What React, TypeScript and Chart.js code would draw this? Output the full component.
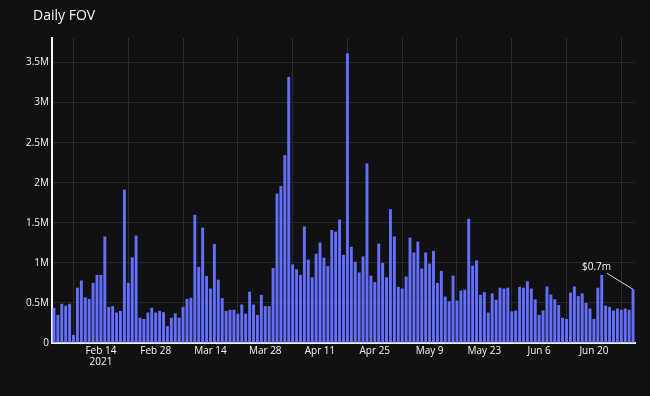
import React, { useEffect, useRef } from "react";
import { Chart, registerables } from "chart.js";

Chart.register(...registerables);

// ---- data ----
const START_DATE = "2021-02-02";
const FOV_M: number[] = [
  0.44, 0.35, 0.49, 0.465, 0.49, 0.1, 0.69, 0.78, 0.57, 0.55,
  0.75, 0.85, 0.85, 1.33, 0.45, 0.46, 0.38, 0.4, 1.915, 0.75,
  1.07, 1.34, 0.315, 0.3, 0.38, 0.44, 0.38, 0.4, 0.385, 0.21,
  0.315, 0.37, 0.315, 0.45, 0.55, 0.565, 1.6, 0.95, 1.44, 0.835,
  0.68, 1.235, 0.79, 0.56, 0.4, 0.415, 0.415, 0.365, 0.48, 0.365,
  0.64, 0.48, 0.35, 0.6, 0.46, 0.46, 0.935, 1.865, 1.96, 2.345,
  3.32, 0.98, 0.92, 0.85, 1.455, 1.04, 0.82, 1.115, 1.255, 1.065,
  0.96, 1.41, 1.39, 1.54, 1.1, 3.615, 1.2, 1.015, 0.88, 1.08,
  2.24, 0.84, 0.76, 1.24, 1.0, 0.82, 1.67, 1.33, 0.7, 0.68,
  0.83, 1.315, 1.13, 1.265, 0.93, 1.13, 0.99, 1.15, 0.75, 0.9,
  0.58, 0.52, 0.84, 0.53, 0.655, 0.665, 1.55, 0.965, 1.03, 0.6,
  0.635, 0.38, 0.62, 0.54, 0.69, 0.68, 0.69, 0.395, 0.405, 0.7,
  0.69, 0.77, 0.68, 0.545, 0.35, 0.405, 0.705, 0.605, 0.545, 0.475,
  0.315, 0.3, 0.63, 0.705, 0.585, 0.62, 0.5, 0.43, 0.3, 0.69,
  0.85, 0.465, 0.45, 0.405, 0.43, 0.415, 0.43, 0.415, 0.67,
];
const TICK_DATES = [
  "2021-02-14", "2021-02-28", "2021-03-14", "2021-03-28", "2021-04-11",
  "2021-04-25", "2021-05-09", "2021-05-23", "2021-06-06", "2021-06-20",
];
const TICK_LABELS: (string | string[])[] = [
  ["Feb 14", "2021"], "Feb 28", "Mar 14", "Mar 28", "Apr 11",
  "Apr 25", "May 9", "May 23", "Jun 6", "Jun 20",
];
const Y_TICKS = [0, 0.5, 1, 1.5, 2, 2.5, 3, 3.5];
const Y_MAX = 3.806;
const TITLE = "Daily FOV";
const ANNOTATION_TEXT = "$0.7m";

const BG = "#111111";
const BAR = "#636efa";
const GRID_H = "#222830";
const GRID_V = "#262d36";
const TEXT = "#f2f5fa";
const FONT = '"Open Sans", sans-serif';

function dayIndex(d: string): number {
  return Math.round((Date.parse(d) - Date.parse(START_DATE)) / 86400000);
}
const TICK_IDX = TICK_DATES.map(dayIndex);

const overlayPlugin = {
  id: "overlay",
  beforeDraw(chart: any) {
    const ctx = chart.ctx;
    ctx.save();
    ctx.fillStyle = BG;
    ctx.fillRect(0, 0, chart.width, chart.height);
    ctx.restore();
  },
  afterDraw(chart: any) {
    const ctx = chart.ctx;
    ctx.save();
    ctx.fillStyle = TEXT;
    ctx.font = `14px ${FONT}`;
    ctx.textAlign = "left";
    ctx.textBaseline = "alphabetic";
    ctx.fillText(TITLE, 33, 20);

    const meta = chart.getDatasetMeta(0);
    const last = meta.data[meta.data.length - 1];
    const px = last.x;
    const py = last.y;
    const tx = px - 36.5;
    const ty = py - 22;
    ctx.strokeStyle = "#d8d8d8";
    ctx.lineWidth = 1;
    ctx.beginPath();
    ctx.moveTo(tx + 10.5, ty + 6);
    ctx.lineTo(px, py);
    ctx.stroke();
    ctx.font = `10px ${FONT}`;
    ctx.textAlign = "center";
    ctx.textBaseline = "middle";
    ctx.fillText(ANNOTATION_TEXT, tx, ty);
    ctx.restore();
  },
};

export default function App() {
  const canvasRef = useRef<HTMLCanvasElement | null>(null);

  useEffect(() => {
    document.body.style.margin = "0";
    document.body.style.background = BG;
    const canvas = canvasRef.current;
    if (!canvas) return;
    const chart = new Chart(canvas, {
      type: "bar",
      data: {
        datasets: [
          {
            data: FOV_M.map((v, i) => ({ x: i, y: v })),
            backgroundColor: BAR,
            borderWidth: 0,
            barPercentage: 0.75,
            categoryPercentage: 1,
          },
        ],
      },
      options: {
        animation: false,
        responsive: false,
        devicePixelRatio: 1,
        layout: { padding: { top: 38, right: 15, bottom: 0, left: 0 } },
        plugins: {
          legend: { display: false },
          tooltip: { enabled: false },
          title: { display: false },
        },
        scales: {
          x: {
            type: "linear",
            min: -0.5,
            max: FOV_M.length - 0.5,
            offset: false,
            afterBuildTicks: (s: any) => {
              s.ticks = TICK_IDX.map((v) => ({ value: v }));
            },
            afterFit: (s: any) => {
              s.height = 53;
            },
            ticks: {
              autoSkip: false,
              maxRotation: 0,
              minRotation: 0,
              padding: 2,
              color: TEXT,
              font: { family: FONT, size: 10, lineHeight: 1.15 },
              callback: (v: any) => {
                const i = TICK_IDX.indexOf(Number(v));
                return i >= 0 ? TICK_LABELS[i] : "";
              },
            },
            grid: { color: GRID_V, lineWidth: 1, drawTicks: false },
            border: { display: true, color: TEXT, width: 2 },
          },
          y: {
            min: 0,
            max: Y_MAX,
            afterBuildTicks: (s: any) => {
              s.ticks = Y_TICKS.map((v) => ({ value: v }));
            },
            afterFit: (s: any) => {
              s.width = 52;
            },
            ticks: {
              padding: 3,
              color: TEXT,
              font: { family: FONT, size: 10 },
              callback: (v: any) => (Number(v) === 0 ? "0" : `${v}M`),
            },
            grid: {
              color: (c: any) => (c.tick && c.tick.value === 0 ? "rgba(0,0,0,0)" : GRID_H),
              lineWidth: 1,
              drawTicks: false,
            },
            border: { display: true, color: TEXT, width: 2 },
          },
        },
      },
      plugins: [overlayPlugin],
    } as any);
    return () => chart.destroy();
  }, []);

  return (
    <div style={{ position: "absolute", left: 0, top: 0, width: 650, height: 396, background: BG }}>
      <canvas ref={canvasRef} width={650} height={396} style={{ display: "block" }} />
    </div>
  );
}
